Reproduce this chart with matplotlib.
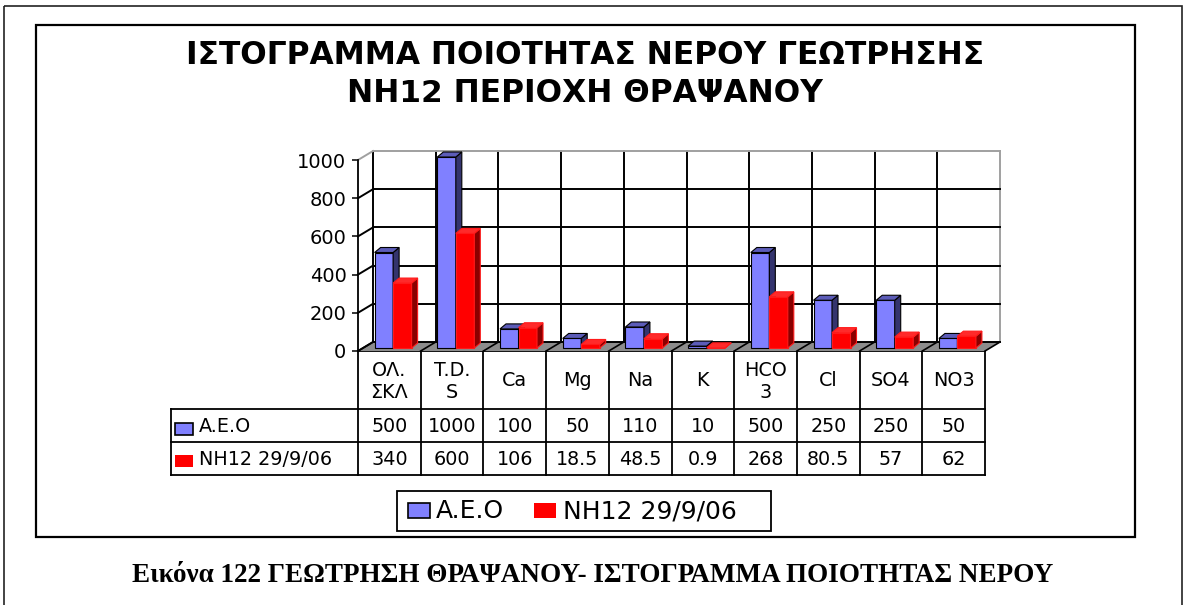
import matplotlib
matplotlib.use('Agg')
import matplotlib.pyplot as plt
from matplotlib.patches import Polygon, Rectangle

# water quality, borehole NH12 vs limit values (A.E.O)
categories = ['ΟΛ.\nΣΚΛ', 'T.D.\nS', 'Ca', 'Mg', 'Na', 'K', 'HCO\n3', 'Cl', 'SO4', 'NO3']
aeo = [500, 1000, 100, 50, 110, 10, 500, 250, 250, 50]
nh12 = [340, 600, 106, 18.5, 48.5, 0.9, 268, 80.5, 57, 62]
series = ['A.E.O', 'NH12 29/9/06']
yticks = [0, 200, 400, 600, 800, 1000]

title1 = 'ΙΣΤΟΓΡΑΜΜΑ ΠΟΙΟΤΗΤΑΣ ΝΕΡΟΥ ΓΕΩΤΡΗΣΗΣ'
title2 = 'ΝΗ12 ΠΕΡΙΟΧΗ ΘΡΑΨΑΝΟΥ'
caption = 'Εικόνα 122 ΓΕΩΤΡΗΣΗ ΘΡΑΨΑΝΟΥ- ΙΣΤΟΓΡΑΜΜΑ ΠΟΙΟΤΗΤΑΣ ΝΕΡΟΥ'

blue = '#8080ff'
blue_side = '#34346e'
blue_top = '#5c5cb8'
red = '#ff0000'
red_side = '#8a0000'
red_top = '#ff2a2a'

plt.rcParams['font.family'] = ['DejaVu Sans']

W, H = 1186, 605
fig = plt.figure(figsize=(W / 100, H / 100), dpi=100)

# pixel canvas for frames, table, legend and texts
cv = fig.add_axes([0, 0, 1, 1])
cv.set_xlim(0, W)
cv.set_ylim(H, 0)
cv.axis('off')

cv.add_patch(Rectangle((4, 6), 1178, 640, fill=False, ec='#222222', lw=1.2))
cv.add_patch(Rectangle((36, 25), 1099, 512, fill=False, ec='black', lw=1.6))

cv.text(585, 56, title1, ha='center', va='center', fontsize=22.5, weight='bold')
cv.text(585, 94, title2, ha='center', va='center', fontsize=22.5, weight='bold')
cv.text(593, 576, caption, ha='center', va='center', fontsize=19.5,
        weight='bold', family='Liberation Serif')

# chart area (front plane)
X0, X1, Y0, Y1 = 358, 985, 351, 160
n = len(categories)
ax = fig.add_axes([X0 / W, (H - Y0) / H, (X1 - X0) / W, (Y0 - Y1) / H])
ax.set_xlim(0, n)
ax.set_ylim(0, 1000)
ax.patch.set_alpha(0)
for s in ['top', 'right', 'bottom']:
    ax.spines[s].set_visible(False)
ax.spines['left'].set_linewidth(1.3)
ax.set_xticks([])
ax.set_yticks(yticks)
ax.tick_params(axis='y', length=4.3, width=1.1, pad=4, labelsize=14)

ppx = (X1 - X0) / n
ppy = (Y0 - Y1) / 1000
wx, wy = 15 / ppx, 9 / ppy      # wall depth
bx, by = 5 / ppx, 3 / ppy       # bar plane
tx, ty = 6 / ppx, 5 / ppy       # bar thickness

# floor
ax.add_patch(Polygon([(0, 0), (n, 0), (n + wx, wy), (wx, wy)], closed=True,
                     fc='#8c8c8c', ec='none', clip_on=False, zorder=1))
for k in range(n + 1):
    ax.plot([k, k + wx], [0, wy], color='k', lw=1.2, clip_on=False, zorder=2)

# back and side walls
for k in range(n + 1):
    c = '#a0a0a0' if k == n else 'k'
    ax.plot([k + wx] * 2, [wy, 1000 + wy], color=c, lw=1.4, clip_on=False, zorder=2)
for v in yticks:
    c = '#a0a0a0' if v == 1000 else 'k'
    ax.plot([wx, n + wx], [v + wy] * 2, color=c, lw=1.4, clip_on=False, zorder=2)
    ax.plot([0, wx], [v, v + wy], color=c, lw=1.4, clip_on=False, zorder=2)


def bars3d(lefts, vals, w, front, side, top, ec):
    ax.bar(lefts, vals, width=w, bottom=by, align='edge', color=front,
           edgecolor=ec, lw=0.8, clip_on=False, zorder=3)
    for x, v in zip(lefts, vals):
        t = v + by
        ax.add_patch(Polygon([(x + w, by), (x + w + tx, by + ty), (x + w + tx, t + ty), (x + w, t)],
                             closed=True, fc=side, ec=ec, lw=0.8, clip_on=False, zorder=3))
        ax.add_patch(Polygon([(x, t), (x + w, t), (x + w + tx, t + ty), (x + tx, t + ty)],
                             closed=True, fc=top, ec=ec, lw=0.8, clip_on=False, zorder=3))


bw = 0.295
bars3d([i + 0.265 for i in range(n)], aeo, bw, blue, blue_side, blue_top, 'k')
bars3d([i + 0.56 for i in range(n)], nh12, bw, red, red_side, red_top, '#ff1a1a')

# data table
colx = [X0 + k * ppx for k in range(n + 1)]
TL = 171
rows = [351, 409, 442, 475]
cv.plot([X0, X1], [rows[0]] * 2, color='k', lw=1.3)
for y in rows[1:]:
    cv.plot([TL, X1], [y, y], color='k', lw=1.3)
for x in colx:
    cv.plot([x, x], [rows[0], rows[3]], color='k', lw=1.3)
cv.plot([TL, TL], [rows[1], rows[3]], color='k', lw=1.3)

fs = 13.8
for k, cat in enumerate(categories):
    xc = colx[k] + ppx / 2
    cv.text(xc, (rows[0] + rows[1]) / 2 + 1, cat, ha='center', va='center',
            fontsize=fs, linespacing=1.2)
    cv.text(xc, (rows[1] + rows[2]) / 2 + 1, f'{aeo[k]:g}', ha='center', va='center', fontsize=fs)
    cv.text(xc, (rows[2] + rows[3]) / 2 + 1, f'{nh12[k]:g}', ha='center', va='center', fontsize=fs)

cv.add_patch(Rectangle((175, 423), 18, 12, fc=blue, ec='k', lw=1.2))
cv.add_patch(Rectangle((175, 455), 18, 12, fc=red, ec='none'))
cv.text(199, (rows[1] + rows[2]) / 2 + 1, series[0], ha='left', va='center', fontsize=fs)
cv.text(199, (rows[2] + rows[3]) / 2 + 1, series[1], ha='left', va='center', fontsize=fs)

# legend
cv.add_patch(Rectangle((397, 491), 374, 40, fill=False, ec='k', lw=1.3))
cv.add_patch(Rectangle((408, 503), 22, 15, fc=blue, ec='k', lw=1.2))
cv.add_patch(Rectangle((534, 503), 22, 15, fc=red, ec='none'))
cv.text(436, 511.5, series[0], ha='left', va='center', fontsize=18)
cv.text(563, 511.5, series[1], ha='left', va='center', fontsize=18)

fig.savefig('out.png', dpi=100)
